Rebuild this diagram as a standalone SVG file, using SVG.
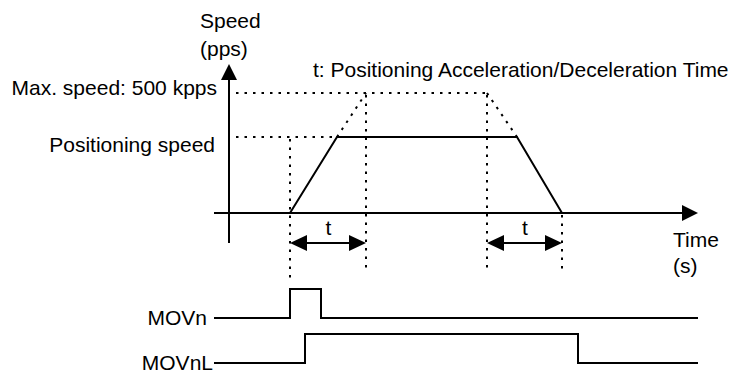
<svg xmlns="http://www.w3.org/2000/svg" width="737" height="371" viewBox="0 0 737 371">
<style>
  text { font-family: "Liberation Sans", Arial, sans-serif; font-size: 21px; fill: #000; }
  .solid { stroke: #000; stroke-width: 2; fill: none; }
  .dot { stroke: #000; stroke-width: 2; fill: none; stroke-dasharray: 2.5 6; }
  .head { fill: #000; stroke: none; }
</style>
<rect width="737" height="371" fill="#fff"/>

<g id="axes">
  <line class="solid" x1="229" y1="243" x2="229" y2="78"/>
  <polygon class="head" points="229,64 221,80 237,80"/>
  <line class="solid" x1="214" y1="213" x2="684" y2="213"/>
  <polygon class="head" points="698,213 682,205 682,221"/>
</g>

<g id="axis-labels">
  <text x="200" y="28">Speed</text>
  <text x="200" y="56">(pps)</text>
  <text x="673" y="247">Time</text>
  <text x="673" y="273">(s)</text>
</g>

<g id="level-labels">
  <text x="217" y="95" text-anchor="end">Max. speed: 500 kpps</text>
  <text x="215" y="152" text-anchor="end">Positioning speed</text>
  <text x="313" y="77">t: Positioning Acceleration/Deceleration Time</text>
</g>

<g id="speed-profile">
  <polyline class="solid" points="290,213 337,137 517,137 562,213"/>
</g>

<g id="guides">
  <line class="dot" x1="236" y1="93" x2="487" y2="93"/>
  <line class="dot" x1="236" y1="137" x2="337" y2="137"/>
  <line class="dot" x1="337" y1="137" x2="366" y2="93"/>
  <line class="dot" x1="487" y1="93" x2="517" y2="137"/>
  <line class="dot" x1="290" y1="139" x2="290" y2="279"/>
  <line class="dot" x1="366" y1="95" x2="366" y2="268"/>
  <line class="dot" x1="487" y1="95" x2="487" y2="268"/>
  <line class="dot" x1="562" y1="215" x2="562" y2="274"/>
</g>

<g id="connectors">
  <line class="solid" x1="304" y1="243" x2="352" y2="243"/>
  <polygon class="head" points="290,243 307,235 307,251"/>
  <polygon class="head" points="366,243 349,235 349,251"/>
  <line class="solid" x1="501" y1="243" x2="548" y2="243"/>
  <polygon class="head" points="487,243 504,235 504,251"/>
  <polygon class="head" points="562,243 545,235 545,251"/>
</g>

<g id="t-labels">
  <text x="328.5" y="235" text-anchor="middle">t</text>
  <text x="525" y="235" text-anchor="middle">t</text>
</g>

<g id="movn">
  <text x="207" y="325" text-anchor="end">MOVn</text>
  <polyline class="solid" points="214,318 290,318 290,289 321,289 321,318 698,318"/>
</g>

<g id="movnl">
  <text x="213" y="370" text-anchor="end">MOVnL</text>
  <polyline class="solid" points="214,363 305,363 305,334 578,334 578,363 698,363"/>
</g>
</svg>
